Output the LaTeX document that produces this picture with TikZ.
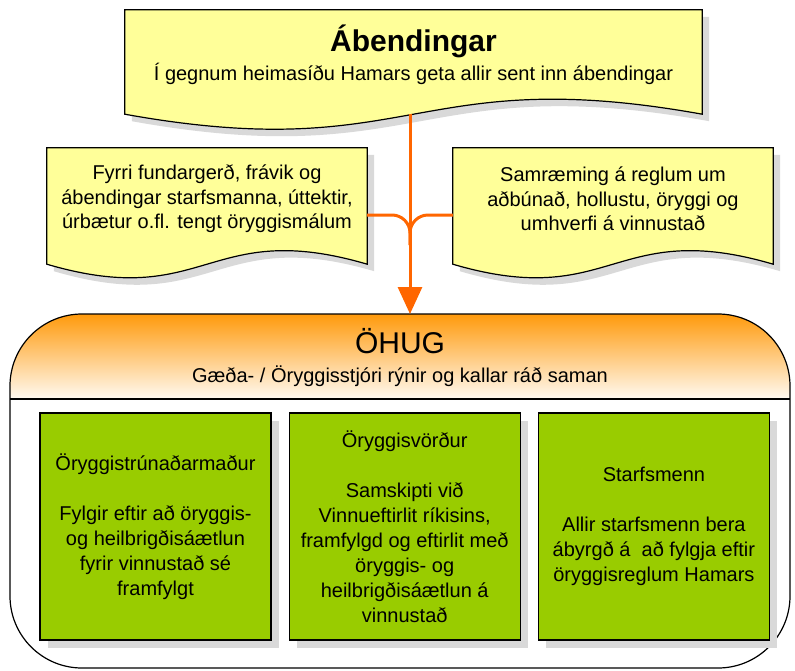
\documentclass[tikz,border=0pt]{standalone}
\usepackage{fontspec}
\setmainfont{Liberation Sans}
\usetikzlibrary{positioning,arrows.meta,shadows,backgrounds,calc}
\definecolor{docyellow}{HTML}{FFFF99}
\definecolor{rolegreen}{HTML}{99CC00}
\definecolor{floworange}{HTML}{FF6600}
\definecolor{ohugtop}{HTML}{FF9A0C}
\definecolor{ohugbot}{HTML}{FFFAF2}
\definecolor{shadowgray}{HTML}{D9D9D9}

% document shape round a node: name, side drop, wave bend, offset
\newcommand{\docpath}[4]{([shift={(#4,#4)}]#1.north west) -- ([shift={(#4,#4)}]#1.north east)
  -- ([shift={(#4,#4+#2)}]#1.south east)
  .. controls ([shift={(#4,#4+#2-#3)}]#1.south) and ([shift={(#4,#4+#2+#3)}]#1.south) ..
  ([shift={(#4,#4+#2)}]#1.south west) -- cycle}

\tikzset{
  boxline/.style={draw=black, line width=1.2pt},
  docbox/.style={align=center, inner sep=0pt, font=\fontsize{20}{24.5}\selectfont},
  rolebox/.style={boxline, fill=rolegreen, minimum width=231pt, minimum height=227pt,
    align=center, inner sep=0pt, font=\fontsize{20}{25}\selectfont,
    drop shadow={shadow xshift=8pt, shadow yshift=-8pt, fill=shadowgray, opacity=1}},
  flow/.style={draw=floworange, line width=3pt},
}

\begin{document}
\begin{tikzpicture}[x=1pt, y=-1pt]
  \useasboundingbox (0,0) rectangle (795,670);

  \node[docbox, minimum width=577pt, minimum height=90pt, font=\fontsize{20}{29.5}\selectfont] (abend) at (413.5,55)
    {{\bfseries\fontsize{30}{29.5}\selectfont Ábendingar}\\
     Í gegnum heimasíðu Hamars geta allir sent inn ábendingar};
  \node[docbox, minimum width=320pt, minimum height=102pt] (fyrri) at (207,199)
    {Fyrri fundargerð, frávik og\\ábendingar starfsmanna, úttektir,\\úrbætur o.fl. tengt öryggismálum};
  \node[docbox, minimum width=320pt, minimum height=102pt] (samr) at (613,199)
    {Samræming á reglum um\\aðbúnað, hollustu, öryggi og\\umhverfi á vinnustað};

  \begin{scope}[on background layer]
    \fill[shadowgray] \docpath{abend}{14}{52}{7};
    \draw[boxline, fill=docyellow] \docpath{abend}{14}{52}{0};
    \fill[shadowgray] \docpath{fyrri}{14}{47}{7};
    \draw[boxline, fill=docyellow] \docpath{fyrri}{14}{47}{0};
    \fill[shadowgray] \docpath{samr}{14}{47}{7};
    \draw[boxline, fill=docyellow] \docpath{samr}{14}{47}{0};
  \end{scope}

  \node[minimum width=780pt, minimum height=354pt, outer sep=0pt] (ohug) at (400,491) {};
  \begin{scope}
    \clip[rounded corners=72pt] (ohug.north west) rectangle (ohug.south east);
    \shade[top color=ohugtop, bottom color=ohugbot]
      (ohug.north west) rectangle ([shift={(0,85)}]ohug.north east);
  \end{scope}
  \draw[boxline, rounded corners=72pt] (ohug.north west) rectangle (ohug.south east);
  \draw[boxline] ([shift={(0,85)}]ohug.north west) -- ([shift={(0,85)}]ohug.north east);
  \node[font=\fontsize{30}{36}\selectfont] (ohugname) at (400,341) {ÖHUG};
  \node[font=\fontsize{20}{25}\selectfont] (ohugsub) at (400,376) {Gæða- / Öryggisstjóri rýnir og kallar ráð saman};

  \node[rolebox] (trun) at (155.5,526.5)
    {Öryggistrúnaðarmaður\\[25pt]Fylgir eftir að öryggis-\\og heilbrigðisáætlun\\fyrir vinnustað sé\\framfylgt};
  \node[rolebox, right=17pt of trun] (vord)
    {Öryggisvörður\\[25pt]Samskipti við\\Vinnueftirlit ríkisins,\\framfylgd og eftirlit með\\öryggis- og\\heilbrigðisáætlun á\\vinnustað};
  \node[rolebox, right=17pt of vord] (starf)
    {Starfsmenn\\[25pt]Allir starfsmenn bera\\ábyrgð á \ að fylgja eftir\\öryggisreglum Hamars};

  \coordinate (merge) at (410,245);
  \draw[flow, rounded corners=18pt] ([shift={(0,16)}]fyrri.east) -| (merge);
  \draw[flow, rounded corners=18pt] ([shift={(0,16)}]samr.west) -| (merge);
  \draw[flow, -{Triangle[length=27pt,width=24pt]}] ($(abend.south -| merge)+(0,14)$) -- (merge |- ohug.north);
\end{tikzpicture}
\end{document}
